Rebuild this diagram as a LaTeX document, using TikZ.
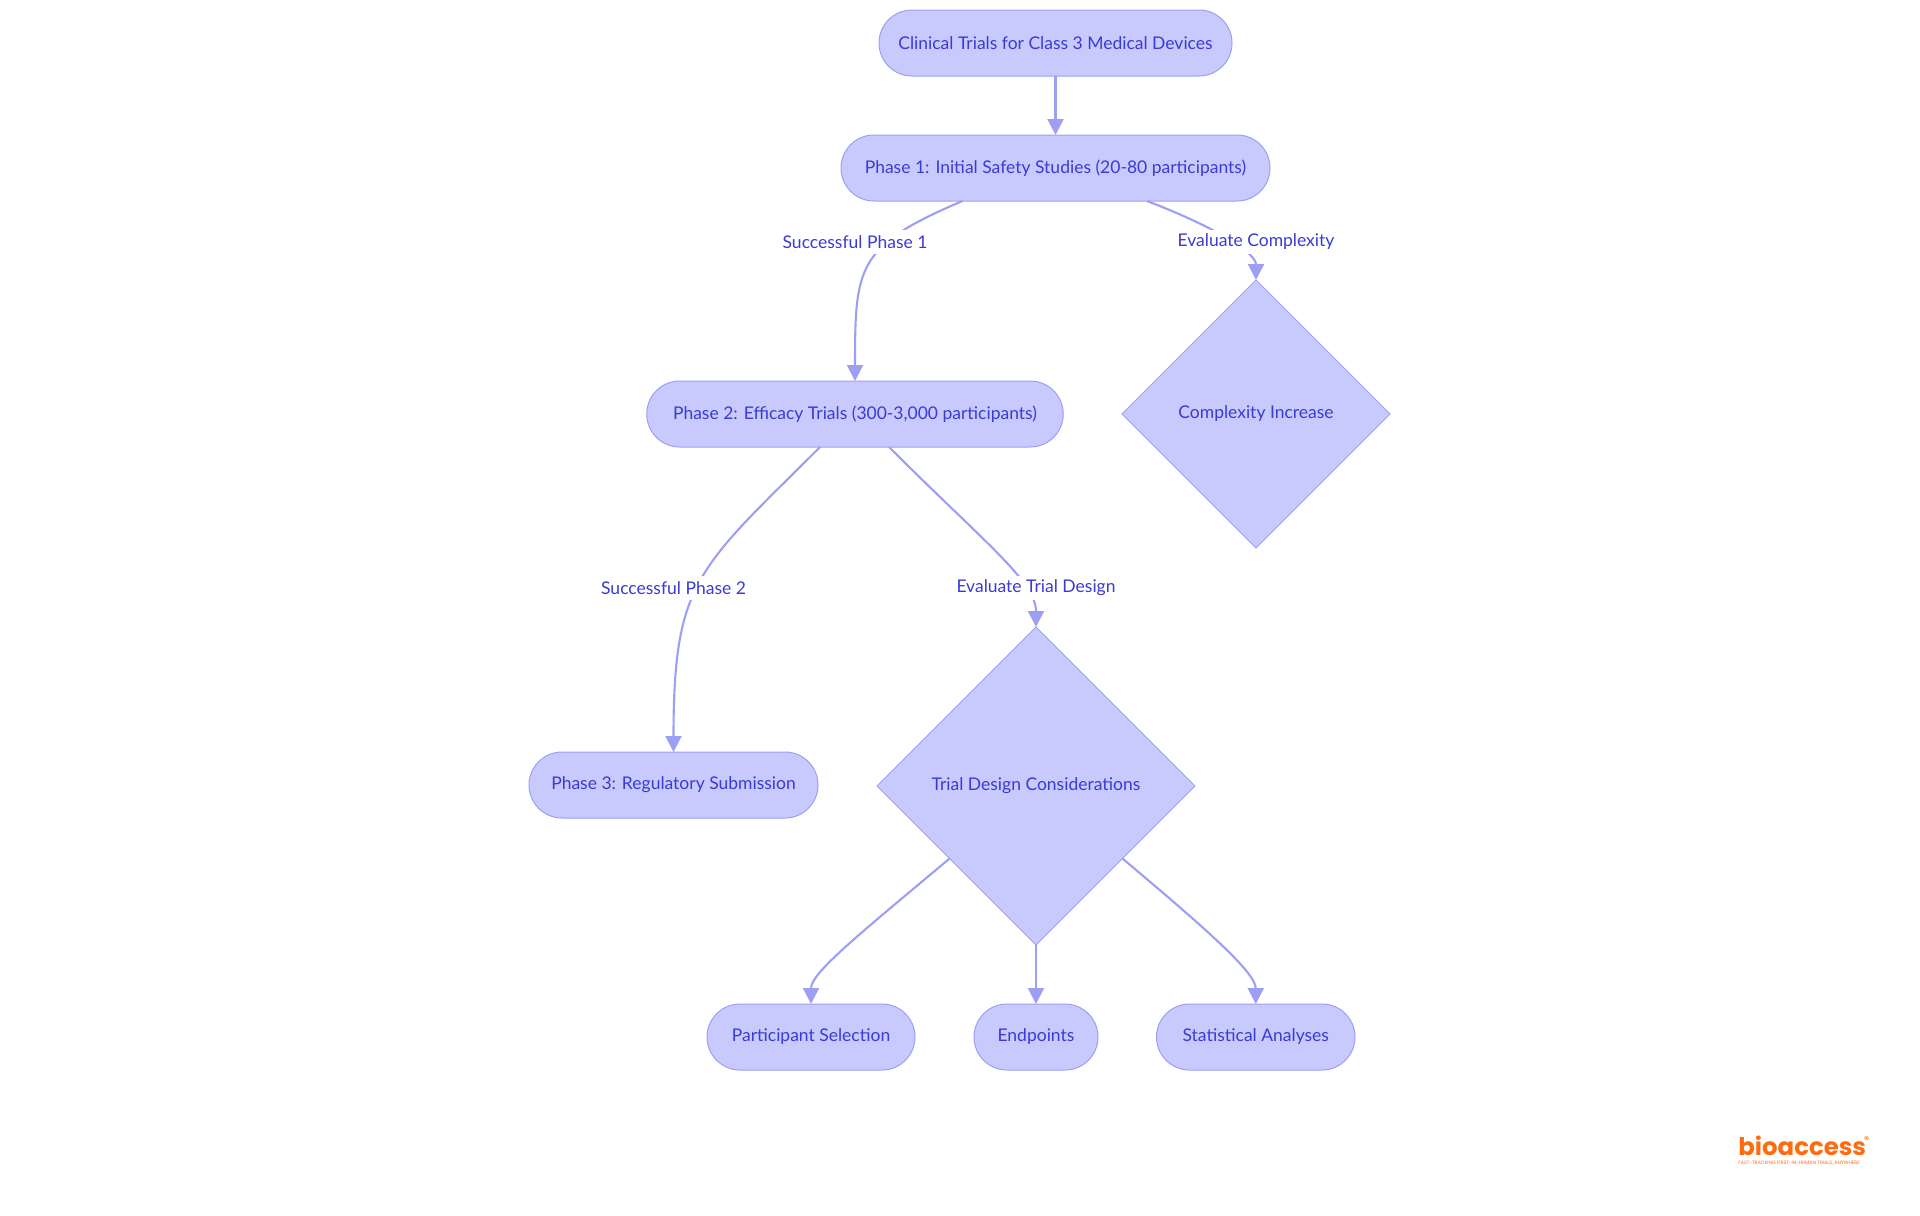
\documentclass[tikz,border=0pt]{standalone}
\usepackage{fontspec}
\setmainfont{Lato}
\newfontfamily\logofont{Poppins}
\usetikzlibrary{
  shapes.geometric,
  arrows.meta,
  positioning,
}
\definecolor{nodefill}{HTML}{C8CAFD}
\definecolor{edgeline}{HTML}{9C9FF3}
\definecolor{nodetext}{HTML}{3A3AD6}
\definecolor{logoorange}{HTML}{FF6B0F}
\tikzset{
  stadium/.style={
    rectangle,
    rounded corners=16.5pt,
    minimum height=33pt,
    inner sep=0pt,
    outer sep=0pt,
    text centered,
    draw=edgeline,
    line width=0.5pt,
    fill=nodefill,
    text=nodetext,
    font=\fontsize{8.75}{11}\selectfont
  },
  decision/.style={
    diamond,
    aspect=1,
    inner sep=0pt,
    outer sep=0pt,
    text centered,
    draw=edgeline,
    line width=0.5pt,
    fill=nodefill,
    text=nodetext,
    font=\fontsize{8.75}{11}\selectfont
  },
  edgelabel/.style={
    rectangle,
    fill=white,
    inner sep=0pt,
    outer sep=0pt,
    minimum height=12pt,
    text=nodetext,
    font=\fontsize{8.75}{11}\selectfont
  },
  arrow/.style={
    draw=edgeline,
    line width=1.05pt,
    -{Triangle[length=8pt,width=8pt]},
  },
}

\begin{document}
\begin{tikzpicture}
  \useasboundingbox (0pt,0pt) rectangle (960pt,-607.5pt);

  % Phases
  \node (clinical) [stadium, minimum width=176.5pt] at (527.75pt,-21.5pt) {Clinical Trials for Class 3 Medical Devices};
  \node (phaseone) [stadium, minimum width=214.5pt, below=29.5pt of clinical] {Phase 1: Initial Safety Studies (20-80 participants)};
  \node (phasetwo) [stadium, minimum width=208.25pt, below=90pt of phaseone, xshift=-100.25pt] {Phase 2: Efficacy Trials (300-3,000 participants)};
  \node (phasethree) [stadium, minimum width=144.5pt, below=152.5pt of phasetwo, xshift=-90.75pt] {Phase 3: Regulatory Submission};

  % Decisions
  \node (complexity) [decision, minimum size=134pt, below=39.5pt of phaseone, xshift=100.25pt] {Complexity Increase};
  \node (trialdesign) [decision, minimum size=159pt, below=90pt of phasetwo, xshift=90.5pt] {Trial Design Considerations};

  % Considerations
  \node (endpoints) [stadium, minimum width=62pt, below=29.5pt of trialdesign] {Endpoints};
  \node (participant) [stadium, minimum width=104pt, left=29.5pt of endpoints] {Participant Selection};
  \node (statistical) [stadium, minimum width=99.25pt, right=29.25pt of endpoints] {Statistical Analyses};

  % Arrows
  \draw [arrow] (clinical.south) to (phaseone.north);
  \draw [arrow] ([xshift=-46.5pt]phaseone.south) to[out=203, in=90, looseness=1.4] (phasetwo.north);
  \draw [arrow] ([xshift=45.75pt]phaseone.south) to[out=-21, in=90, out looseness=1.5, in looseness=0.5] (complexity.north);
  \draw [arrow] ([xshift=-17.5pt]phasetwo.south) to[out=225, in=90, looseness=1.3] (phasethree.north);
  \draw [arrow] ([xshift=17pt]phasetwo.south) to[out=-45, in=90, out looseness=1.5, in looseness=0.5] (trialdesign.north);
  \draw [arrow] (trialdesign.220) to[out=220, in=90, out looseness=1.5, in looseness=0.4] (participant.north);
  \draw [arrow] (trialdesign.south) to (endpoints.north);
  \draw [arrow] (trialdesign.-40) to[out=-40, in=90, out looseness=1.5, in looseness=0.4] (statistical.north);

  % Edge labels
  \node (successone) [edgelabel, above=63.5pt of phasetwo] {Successful Phase 1};
  \node (evalcomplexity) [edgelabel, above=13pt of complexity] {Evaluate Complexity};
  \node (successtwo) [edgelabel, above=76pt of phasethree] {Successful Phase 2};
  \node (evaltrial) [edgelabel, above=13.5pt of trialdesign] {Evaluate Trial Design};

  % Logo
  \node (logo) [inner sep=0pt, anchor=base west, text=logoorange, font=\logofont\bfseries\fontsize{12.2}{13}\selectfont] at (869pt,-577.5pt) {bioaccess};
  \node (logomark) [inner sep=0pt, anchor=east, text=logoorange, font=\logofont\fontsize{5}{5}\selectfont] at ([xshift=1.5pt,yshift=-2.5pt]logo.north east) {®};
  \node (logotag) [inner sep=0pt, below=2.8pt of logo.base west, anchor=north west, text=logoorange, font=\logofont\fontsize{2.4}{3}\selectfont] {FAST-TRACKING FIRST-IN-HUMAN TRIALS, ANYWHERE};
\end{tikzpicture}
\end{document}
